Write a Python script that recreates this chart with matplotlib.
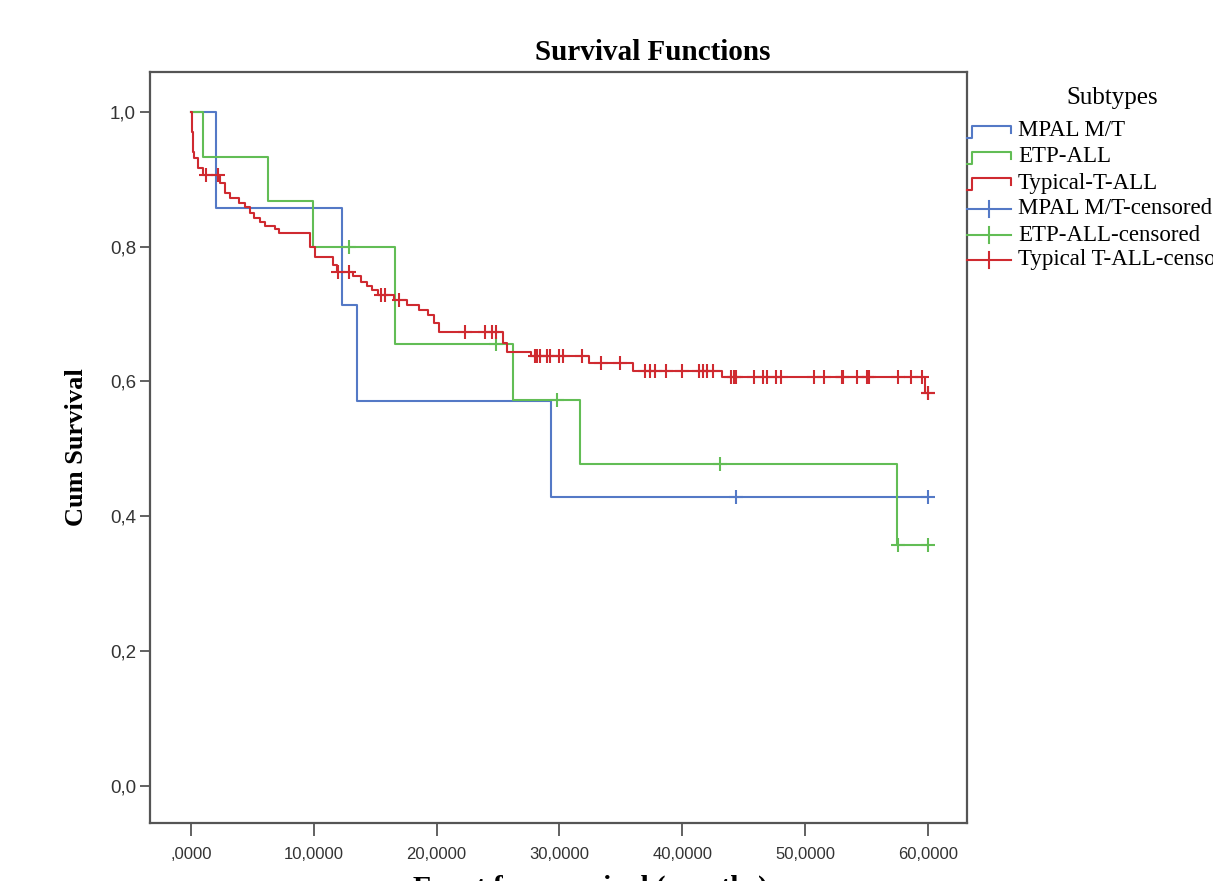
import numpy as np
import matplotlib
matplotlib.use("Agg")
import matplotlib.pyplot as plt
from matplotlib.lines import Line2D

# -------------------------------
# DATA
# -------------------------------
mpal_times = [0, 2.05, 12.3, 13.5, 29.3]
mpal_surv = [1.0, 0.857, 0.714, 0.571, 0.429]
mpal_censor = [44.4, 60.0]

etp_times = [0, 1.0, 6.3, 9.95, 16.6, 26.2, 31.7, 57.5]
etp_surv = [1.0, 0.933, 0.867, 0.8, 0.655, 0.573, 0.478, 0.358]
etp_censor = [12.9, 24.8, 29.8, 43.1, 57.6, 60.0]

typ_times = [0, 0.05, 0.1, 0.15, 0.2, 0.27, 0.6, 1.0, 2.4, 2.8, 3.2, 3.9, 4.4,
             4.8, 5.1, 5.6, 6.0, 6.8, 7.2, 9.7, 10.1, 11.6, 11.9, 13.2, 13.8,
             14.3, 14.7, 15.2, 16.5, 17.6, 18.6, 19.3, 19.8, 20.2, 25.4, 25.7,
             27.7, 32.4, 36.0, 43.2, 59.8]
typ_surv = [1.0, 0.985, 0.97, 0.955, 0.94, 0.931, 0.916, 0.906, 0.894, 0.88,
            0.872, 0.865, 0.859, 0.85, 0.842, 0.837, 0.830, 0.826, 0.820, 0.80,
            0.785, 0.773, 0.762, 0.756, 0.748, 0.741, 0.736, 0.728, 0.721,
            0.714, 0.706, 0.699, 0.686, 0.674, 0.657, 0.644, 0.637, 0.627,
            0.616, 0.606, 0.583]
typ_censor = [1.2, 2.2, 12.0, 12.9, 15.5, 15.8, 16.9, 22.3, 23.9, 24.5, 24.8,
              28.0, 28.2, 28.4, 29.0, 29.2, 30.0, 30.3, 31.8, 33.4, 34.9, 37.0,
              37.4, 37.8, 38.7, 40.0, 41.4, 41.7, 42.0, 42.5, 44.0, 44.2, 44.4,
              45.8, 46.6, 46.9, 47.6, 48.0, 50.7, 51.5, 53.0, 53.1, 54.2, 55.0,
              55.2, 57.6, 58.6, 59.5, 60.0, 60.0]

end_time = 60.0
x_ticks = [0, 10, 20, 30, 40, 50, 60]
x_tick_labels = [",0000", "10,0000", "20,0000", "30,0000", "40,0000", "50,0000", "60,0000"]
y_ticks = [0.0, 0.2, 0.4, 0.6, 0.8, 1.0]
y_tick_labels = ["0,0", "0,2", "0,4", "0,6", "0,8", "1,0"]

groups = [
    ("MPAL M/T", "MPAL M/T-censored", mpal_times, mpal_surv, mpal_censor, "#5479c6"),
    ("ETP-ALL", "ETP-ALL-censored", etp_times, etp_surv, etp_censor, "#62bd55"),
    ("Typical-T-ALL", "Typical T-ALL-censored", typ_times, typ_surv, typ_censor, "#cf2a30"),
]

# -------------------------------
# FIGURE
# -------------------------------
W, H = 1213, 881
fig = plt.figure(figsize=(W / 100, H / 100), dpi=100)
ax = fig.add_axes([150 / W, 1 - 823 / H, (967 - 150) / W, (823 - 72) / H])

for name, cname, times, surv, cens, color in groups:
    t = np.array(times + [end_time])
    s = np.array(surv + [surv[-1]])
    ax.step(t, s, where="post", color=color, linewidth=1.5)
    idx = np.searchsorted(times, cens, side="right") - 1
    cy = np.array(surv)[idx]
    ax.plot(cens, cy, linestyle="none", marker="+", markersize=10,
            markeredgewidth=1.5, color=color)

ax.set_xlim(-3.34, 63.18)
ax.set_ylim(-0.055, 1.059)
ax.set_xticks(x_ticks)
ax.set_xticklabels(x_tick_labels, fontfamily=["Liberation Sans Narrow", "Liberation Sans"],
                   fontsize=12, color="#333333")
ax.set_yticks(y_ticks)
ax.set_yticklabels(y_tick_labels, fontfamily="Liberation Sans", fontsize=13.5,
                   color="#333333")
ax.tick_params(axis="x", length=9, width=1.3, color="#555555", pad=8)
ax.tick_params(axis="y", length=7, width=1.3, color="#555555", pad=3)
for sp in ax.spines.values():
    sp.set_color("#555555")
    sp.set_linewidth(1.6)

ax.set_ylabel("Cum Survival", fontfamily="Liberation Serif", fontsize=19,
              fontweight="bold", labelpad=16)

fig.text(653 / W, 1 - 52 / H, "Survival Functions", ha="center", va="center",
         fontfamily="Liberation Serif", fontweight="bold", fontsize=21)
fig.text(590 / W, 1 - 875 / H, "Event free survival (months)", ha="center", va="top",
         fontfamily="Liberation Serif", fontweight="bold", fontsize=21)

# -------------------------------
# LEGEND (drawn by hand, spills past the right edge like the original)
# -------------------------------
def fx(px):
    return px / W


def fy(py):
    return 1 - py / H


fig.text(fx(1112), fy(98), "Subtypes", ha="center", va="center",
         fontfamily="Liberation Serif", fontsize=18)
rows = [131, 157, 183, 209, 235, 260]
for i, (name, cname, times, surv, cens, color) in enumerate(groups):
    c = rows[i]
    fig.add_artist(Line2D([fx(967), fx(972), fx(972), fx(1011), fx(1011)],
                          [fy(c + 7), fy(c + 7), fy(c - 5), fy(c - 5), fy(c + 2)],
                          color=color, linewidth=1.5, transform=fig.transFigure))
    fig.text(fx(1018), fy(c), name, ha="left", va="center",
             fontfamily="Liberation Serif", fontsize=16.5)
    c = rows[i + 3]
    fig.add_artist(Line2D([fx(967), fx(1011)], [fy(c), fy(c)], color=color,
                          linewidth=1.5, transform=fig.transFigure))
    fig.add_artist(Line2D([fx(989), fx(989)], [fy(c - 8), fy(c + 8)], color=color,
                          linewidth=1.5, transform=fig.transFigure))
    fig.text(fx(1018), fy(c), cname, ha="left", va="center",
             fontfamily="Liberation Serif", fontsize=16.5)

fig.savefig("out.png", dpi=100)
